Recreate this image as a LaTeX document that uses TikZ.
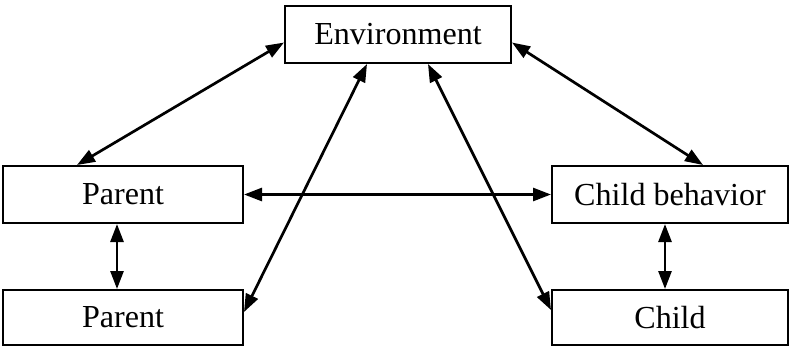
\documentclass[tikz,border=0pt]{standalone}
\usepackage{fontspec}
\setmainfont{Liberation Serif}
\usetikzlibrary{arrows.meta}
\begin{document}
\begin{tikzpicture}[x=1bp,y=-1bp,
  box/.style={draw,line width=2bp,minimum height=57bp,inner sep=0pt,font=\fontsize{32.2}{38}\selectfont},
  link/.style={line width=2.7bp,{Triangle[length=18bp,width=13bp]}-{Triangle[length=18bp,width=13bp]}}]
\useasboundingbox (0,0) rectangle (790,347);
\node[box,minimum width=226bp] (env) at (398,34.5) {Environment};
\node[box,minimum width=240bp] (p1) at (123,194.5) {Parent};
\node[box,minimum width=236bp] (cb) at (670,194.5) {Child behavior};
\node[box,minimum width=240bp,minimum height=55bp] (p2) at (123,317.5) {Parent};
\node[box,minimum width=236bp,minimum height=55bp] (ch) at (670,317.5) {Child};
\draw[link] ([yshift=-8bp]env.west) -- ([xshift=-46bp]p1.north);
\draw[link] ([yshift=-8bp]env.east) -- ([xshift=33bp]cb.north);
\draw[link] ([xshift=-31bp]env.south) -- ([yshift=5.5bp]p2.east);
\draw[link] ([xshift=30bp]env.south) -- ([yshift=7.5bp]ch.west);
\draw[link] (p1.east) -- (cb.west);
\draw[link] ([xshift=-6bp]p1.south) -- ([xshift=-6bp]p2.north);
\draw[link] ([xshift=-5bp]cb.south) -- ([xshift=-5bp]ch.north);
\end{tikzpicture}
\end{document}
